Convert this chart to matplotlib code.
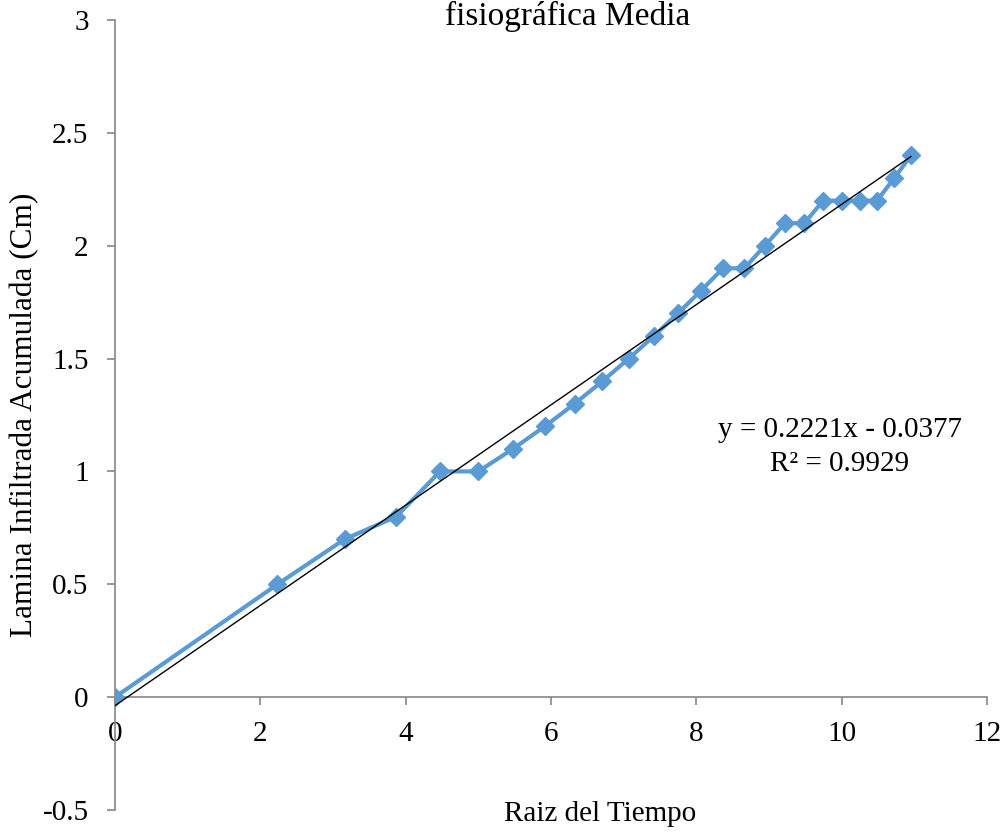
import numpy as np
import matplotlib.pyplot as plt

plt.rcParams['font.family'] = ['Liberation Serif', 'DejaVu Serif']

# raiz del tiempo (min^0.5) and lamina infiltrada acumulada (cm)
raiz_tiempo = [0.0, 2.236, 3.162, 3.873, 4.472, 5.0, 5.477, 5.916, 6.325,
               6.708, 7.071, 7.416, 7.746, 8.062, 8.367, 8.660, 8.944,
               9.220, 9.487, 9.747, 10.0, 10.247, 10.488, 10.724, 10.954]
lamina = [0.0, 0.5, 0.7, 0.8, 1.0, 1.0, 1.1, 1.2, 1.3, 1.4, 1.5, 1.6, 1.7,
          1.8, 1.9, 1.9, 2.0, 2.1, 2.1, 2.2, 2.2, 2.2, 2.2, 2.3, 2.4]

pendiente = 0.2221
intercepto = -0.0377
r2 = 0.9929

xticks = [0, 2, 4, 6, 8, 10, 12]
yticks = [-0.5, 0, 0.5, 1, 1.5, 2, 2.5, 3]


def plot_chart():
    fig = plt.figure()
    fig.set_size_inches(10.08, 8.34)
    axis = fig.add_axes([115 / 1008, 24 / 834, 872 / 1008, 790 / 834])

    axis.plot(raiz_tiempo, lamina, color='#5B9BD5', linewidth=3,
              marker='D', markersize=9, zorder=3)
    xs = np.array([0, raiz_tiempo[-1]])
    axis.plot(xs, pendiente * xs + intercepto, color='black', linewidth=1,
              zorder=4)

    axis.set_xlim(0, 12)
    axis.set_ylim(-0.5, 3)
    axis.set_xticks(xticks)
    axis.set_xticklabels([str(t) for t in xticks])
    axis.set_yticks(yticks)
    axis.set_yticklabels(['%g' % t for t in yticks])

    for side in ['top', 'right']:
        axis.spines[side].set_visible(False)
    axis.spines['bottom'].set_position(('data', 0))
    for side in ['left', 'bottom']:
        axis.spines[side].set_color('#868686')
        axis.spines[side].set_linewidth(1.2)
    axis.tick_params(axis='both', colors='#868686', labelcolor='black',
                     labelsize=21, length=6, width=1.2)
    axis.tick_params(axis='x', pad=11)
    axis.tick_params(axis='y', pad=13)

    fig.text(25 / 1008, 1 - 415 / 834, 'Lamina Infiltrada Acumulada (Cm)',
             rotation=90, ha='center', va='center', fontsize=22.5)
    fig.text(600 / 1008, 1 - 814 / 834, 'Raiz del Tiempo',
             ha='center', va='center', fontsize=21)
    fig.text(568 / 1008, 1 - 25 / 834, 'fisiográfica Media',
             ha='center', va='baseline', fontsize=24)

    axis.text(840 / 1008, 1 - 430 / 834,
              'y = %.4fx - %.4f' % (pendiente, -intercepto),
              transform=fig.transFigure, ha='center', va='center', fontsize=21)
    axis.text(840 / 1008, 1 - 464 / 834, 'R² = %.4f' % r2,
              transform=fig.transFigure, ha='center', va='center', fontsize=21)

    fig.savefig('out.png', dpi=100)


if __name__ == '__main__':
    plot_chart()
